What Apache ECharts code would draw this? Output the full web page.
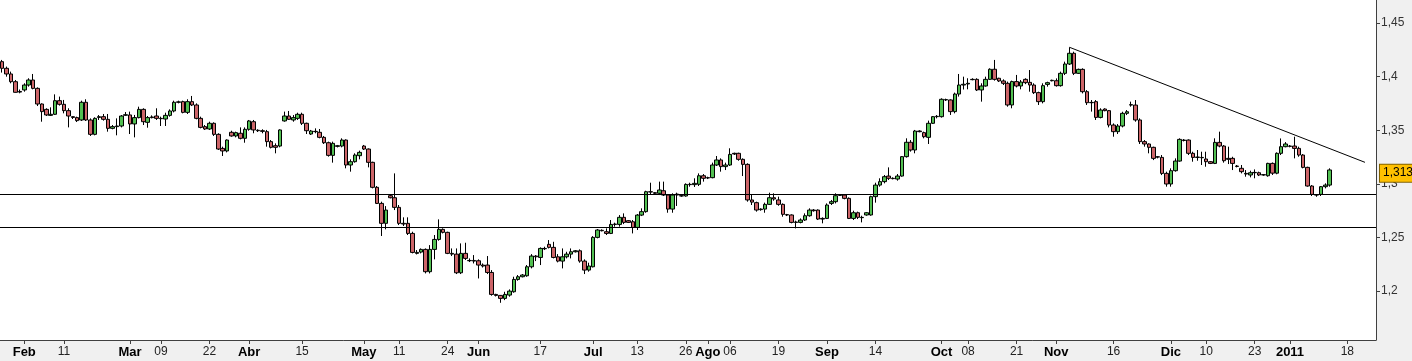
<!DOCTYPE html>
<html><head><meta charset="utf-8">
<script src="https://cdn.jsdelivr.net/npm/echarts@6/dist/echarts.min.js"></script>
<style>html,body{margin:0;padding:0;background:#f0f0f0}#c{width:1412px;height:361px}</style>
</head><body><div id="c"></div>
<script>
// ---- categories: daily bars (Mon-Fri + Sunday sessions), then future weekdays on the axis
const firstDate = '2010-01-26';
const lastDataDate = '2011-01-12';
const futureWeekdays = 10;

// ---- OHLC values (one row = one week of bars)
const opens = [
1.4140,1.4078,1.4025,1.3953,1.3862,1.3876,
1.3922,1.3969,1.3891,1.3745,1.3695,1.3639,
1.3649,1.3776,1.3742,1.3683,1.3627,1.3618,
1.3596,1.3761,1.3596,1.3462,1.3620,1.3627,
1.3602,1.3518,1.3534,1.3540,1.3640,1.3643,
1.3559,1.3618,1.3695,1.3574,1.3618,1.3633,
1.3611,1.3605,1.3639,1.3680,1.3761,1.3767,
1.3667,1.3767,1.3736,1.3611,1.3534,1.3512,
1.3565,1.3462,1.3331,1.3307,1.3481,1.3447,
1.3472,1.3425,1.3509,1.3580,1.3500,1.3496,
1.3487,1.3394,1.3356,1.3353,1.3587,1.3633,
1.3596,1.3611,1.3649,1.3565,1.3465,1.3487,
1.3481,1.3434,1.3384,1.3266,1.3350,1.3353,
1.3409,1.3176,1.3207,1.3263,1.3353,1.3325,
1.3201,1.2968,1.2818,1.2632,1.2890,1.2871,
1.2781,1.2632,1.2632,1.2538,1.2352,1.2364,
1.2389,1.2181,1.2389,1.2482,1.2576,1.2548,
1.2352,1.2345,1.2171,1.2352,1.2283,1.2286,
1.2283,1.2243,1.2243,1.2174,1.1969,1.1960,
1.1932,1.1963,1.1994,1.2109,1.2134,1.2143,
1.2227,1.2327,1.2314,1.2398,1.2436,1.2408,
1.2320,1.2280,1.2320,1.2345,1.2367,1.2376,
1.2280,1.2196,1.2227,1.2501,1.2567,1.2554,
1.2538,1.2622,1.2622,1.2688,1.2657,1.2647,
1.2594,1.2709,1.2741,1.2927,1.2918,1.2912,
1.2936,1.2896,1.2765,1.2896,1.2890,1.2887,
1.2996,1.2993,1.2996,1.3076,1.3058,1.3058,
1.3176,1.3223,1.3161,1.3176,1.3285,1.3285,
1.3229,1.3182,1.2850,1.2825,1.2760,1.2765,
1.2809,1.2871,1.2850,1.2809,1.2713,1.2710,
1.2641,1.2641,1.2663,1.2703,1.2756,1.2756,
1.2672,1.2678,1.2818,1.2834,1.2893,1.2896,
1.2865,1.2678,1.2731,1.2685,1.2710,1.2710,
1.2881,1.2989,1.3021,1.3073,1.3052,1.3045,
1.3073,1.3254,1.3388,1.3316,1.3493,1.3478,
1.3434,1.3565,1.3627,1.3627,1.3783,1.3783,
1.3674,1.3838,1.3922,1.3932,1.3975,1.3975,
1.3876,1.3913,1.3975,1.4069,1.3985,1.3960,
1.3938,1.3736,1.3954,1.3913,1.3975,1.3947,
1.3922,1.3851,1.3767,1.3928,1.3962,1.3962,
1.3916,1.4031,1.4118,1.4218,1.4031,1.4068,
1.3860,1.3757,1.3767,1.3620,1.3698,1.3683,
1.3549,1.3487,1.3540,1.3658,1.3735,1.3735,
1.3596,1.3394,1.3372,1.3341,1.3253,1.3247,
1.3098,1.2999,1.3123,1.3213,1.3409,1.3409,
1.3285,1.3247,1.3244,1.3232,1.3207,1.3191,
1.3387,1.3353,1.3238,1.3238,1.3166,1.3145,
1.3098,1.3083,1.3104,1.3104,1.3083,1.3076,
1.3191,1.3100,1.3285,1.3347,1.3353,1.3353,
1.3331,1.3269,1.3154,1.2980,1.2896,1.2902,
1.2974,1.2989];
const closes = [
1.4078,1.4025,1.3953,1.3854,1.3856,1.3922,
1.3969,1.3891,1.3745,1.3674,1.3643,1.3649,
1.3776,1.3742,1.3683,1.3633,1.3620,1.3590,
1.3761,1.3596,1.3462,1.3611,1.3627,1.3602,
1.3518,1.3534,1.3540,1.3633,1.3645,1.3559,
1.3618,1.3695,1.3580,1.3618,1.3624,1.3611,
1.3608,1.3639,1.3680,1.3761,1.3765,1.3667,
1.3767,1.3736,1.3611,1.3527,1.3512,1.3565,
1.3462,1.3325,1.3307,1.3409,1.3447,1.3478,
1.3425,1.3509,1.3587,1.3503,1.3496,1.3490,
1.3394,1.3341,1.3341,1.3503,1.3633,1.3602,
1.3618,1.3649,1.3565,1.3496,1.3493,1.3490,
1.3434,1.3384,1.3266,1.3378,1.3356,1.3409,
1.3176,1.3207,1.3269,1.3294,1.3325,1.3201,
1.2968,1.2818,1.2632,1.2756,1.2871,1.2781,
1.2632,1.2626,1.2538,1.2361,1.2361,1.2389,
1.2181,1.2389,1.2482,1.2576,1.2548,1.2352,
1.2345,1.2171,1.2352,1.2305,1.2286,1.2280,
1.2243,1.2234,1.2174,1.1969,1.1960,1.1932,
1.1969,1.2000,1.2109,1.2134,1.2150,1.2227,
1.2327,1.2320,1.2398,1.2395,1.2408,1.2314,
1.2280,1.2320,1.2345,1.2367,1.2376,1.2280,
1.2196,1.2234,1.2501,1.2570,1.2563,1.2538,
1.2622,1.2625,1.2688,1.2641,1.2641,1.2594,
1.2709,1.2741,1.2927,1.2924,1.2912,1.2943,
1.2896,1.2765,1.2896,1.2905,1.2887,1.2995,
1.2993,1.3005,1.3076,1.3052,1.3055,1.3176,
1.3223,1.3161,1.3176,1.3275,1.3279,1.3229,
1.3182,1.2850,1.2830,1.2756,1.2765,1.2809,
1.2871,1.2859,1.2809,1.2716,1.2710,1.2641,
1.2644,1.2663,1.2703,1.2756,1.2750,1.2672,
1.2678,1.2803,1.2834,1.2890,1.2896,1.2865,
1.2678,1.2731,1.2688,1.2688,1.2731,1.2881,
1.2989,1.3021,1.3067,1.3052,1.3049,1.3073,
1.3254,1.3388,1.3316,1.3493,1.3487,1.3440,
1.3565,1.3627,1.3630,1.3789,1.3786,1.3674,
1.3838,1.3922,1.3929,1.3938,1.3972,1.3876,
1.3913,1.3975,1.4069,1.3975,1.3960,1.3938,
1.3736,1.3954,1.3913,1.3950,1.3944,1.3922,
1.3851,1.3767,1.3916,1.3944,1.3966,1.3916,
1.4031,1.4118,1.4218,1.4031,1.4068,1.3860,
1.3757,1.3760,1.3620,1.3689,1.3683,1.3549,
1.3487,1.3540,1.3658,1.3673,1.3739,1.3596,
1.3394,1.3372,1.3341,1.3238,1.3250,1.3098,
1.2999,1.3123,1.3213,1.3415,1.3405,1.3285,
1.3247,1.3250,1.3247,1.3207,1.3191,1.3387,
1.3353,1.3216,1.3229,1.3191,1.3163,1.3114,
1.3092,1.3104,1.3107,1.3083,1.3086,1.3191,
1.3100,1.3285,1.3347,1.3372,1.3350,1.3331,
1.3269,1.3154,1.2980,1.2902,1.2899,1.2974,
1.2989,1.3130];
const lows = [
1.4038,1.4000,1.3938,1.3851,1.3845,1.3860,
1.3907,1.3882,1.3726,1.3580,1.3633,1.3633,
1.3643,1.3730,1.3658,1.3527,1.3605,1.3577,
1.3587,1.3587,1.3447,1.3453,1.3596,1.3590,
1.3487,1.3509,1.3453,1.3527,1.3633,1.3465,
1.3434,1.3611,1.3549,1.3524,1.3611,1.3596,
1.3540,1.3540,1.3627,1.3667,1.3751,1.3658,
1.3652,1.3726,1.3602,1.3518,1.3503,1.3503,
1.3447,1.3316,1.3260,1.3294,1.3440,1.3434,
1.3415,1.3384,1.3496,1.3472,1.3484,1.3472,
1.3347,1.3331,1.3285,1.3341,1.3580,1.3596,
1.3580,1.3596,1.3549,1.3465,1.3456,1.3472,
1.3425,1.3372,1.3254,1.3198,1.3340,1.3341,
1.3145,1.3114,1.3198,1.3229,1.3316,1.3154,
1.2958,1.2812,1.2514,1.2576,1.2865,1.2756,
1.2616,1.2607,1.2523,1.2352,1.2342,1.2352,
1.2165,1.2165,1.2296,1.2470,1.2538,1.2345,
1.2327,1.2159,1.2159,1.2290,1.2271,1.2258,
1.2118,1.2220,1.2159,1.1957,1.1950,1.1891,
1.1916,1.1948,1.1985,1.2097,1.2128,1.2134,
1.2212,1.2280,1.2243,1.2383,1.2398,1.2305,
1.2268,1.2212,1.2305,1.2305,1.2360,1.2265,
1.2159,1.2181,1.2221,1.2492,1.2557,1.2523,
1.2532,1.2601,1.2601,1.2625,1.2635,1.2538,
1.2570,1.2700,1.2731,1.2905,1.2905,1.2896,
1.2887,1.2731,1.2731,1.2794,1.2880,1.2881,
1.2974,1.2971,1.2980,1.3021,1.3045,1.3052,
1.3167,1.3114,1.3129,1.3167,1.3270,1.3216,
1.3073,1.2834,1.2803,1.2741,1.2750,1.2731,
1.2803,1.2843,1.2796,1.2694,1.2700,1.2632,
1.2585,1.2632,1.2654,1.2694,1.2741,1.2663,
1.2632,1.2672,1.2803,1.2818,1.2887,1.2856,
1.2672,1.2663,1.2672,1.2641,1.2703,1.2703,
1.2825,1.2974,1.3005,1.3036,1.3042,1.3030,
1.3067,1.3245,1.3301,1.3285,1.3481,1.3425,
1.3372,1.3559,1.3611,1.3618,1.3773,1.3643,
1.3658,1.3814,1.3880,1.3882,1.3966,1.3866,
1.3767,1.3907,1.3969,1.3963,1.3950,1.3922,
1.3720,1.3705,1.3900,1.3882,1.3930,1.3860,
1.3838,1.3736,1.3751,1.3907,1.3956,1.3907,
1.3907,1.4015,1.4109,1.4015,1.4025,1.3844,
1.3736,1.3674,1.3596,1.3611,1.3677,1.3527,
1.3440,1.3465,1.3527,1.3642,1.3720,1.3580,
1.3372,1.3347,1.3285,1.3222,1.3238,1.3082,
1.2974,1.2974,1.3114,1.3207,1.3396,1.3269,
1.3207,1.3216,1.3176,1.3160,1.3185,1.3185,
1.3341,1.3198,1.3185,1.3129,1.3154,1.3098,
1.3067,1.3061,1.3052,1.3073,1.3076,1.3067,
1.3083,1.3090,1.3269,1.3341,1.3341,1.3238,
1.3253,1.3145,1.2974,1.2887,1.2880,1.2887,
1.2958,1.2974];
const highs = [
1.4156,1.4094,1.4047,1.3969,1.3880,1.3938,
1.3985,1.4025,1.3900,1.3751,1.3705,1.3714,
1.3835,1.3814,1.3783,1.3705,1.3630,1.3627,
1.3776,1.3789,1.3611,1.3621,1.3642,1.3652,
1.3652,1.3549,1.3611,1.3642,1.3670,1.3674,
1.3643,1.3720,1.3705,1.3633,1.3639,1.3705,
1.3627,1.3664,1.3695,1.3776,1.3776,1.3776,
1.3789,1.3820,1.3751,1.3627,1.3549,1.3580,
1.3574,1.3472,1.3347,1.3415,1.3496,1.3487,
1.3527,1.3527,1.3596,1.3596,1.3509,1.3509,
1.3503,1.3409,1.3378,1.3509,1.3674,1.3680,
1.3642,1.3664,1.3664,1.3571,1.3503,1.3518,
1.3512,1.3447,1.3394,1.3394,1.3363,1.3425,
1.3415,1.3229,1.3285,1.3310,1.3363,1.3331,
1.3207,1.2980,1.2834,1.2793,1.2902,1.3098,
1.2803,1.2688,1.2688,1.2554,1.2383,1.2398,
1.2398,1.2429,1.2523,1.2669,1.2585,1.2554,
1.2398,1.2398,1.2445,1.2451,1.2305,1.2336,
1.2296,1.2258,1.2327,1.2196,1.1975,1.1963,
1.1994,1.2016,1.2134,1.2150,1.2159,1.2243,
1.2345,1.2336,1.2408,1.2414,1.2476,1.2460,
1.2345,1.2398,1.2367,1.2398,1.2383,1.2389,
1.2296,1.2265,1.2513,1.2579,1.2576,1.2585,
1.2663,1.2638,1.2709,1.2725,1.2663,1.2663,
1.2719,1.2772,1.2936,1.3011,1.2924,1.3021,
1.3021,1.2905,1.2912,1.2918,1.2896,1.3005,
1.3011,1.3052,1.3098,1.3092,1.3067,1.3198,
1.3260,1.3238,1.3198,1.3332,1.3291,1.3291,
1.3238,1.3192,1.2905,1.2834,1.2772,1.2825,
1.2918,1.2912,1.2881,1.2818,1.2720,1.2716,
1.2657,1.2678,1.2725,1.2772,1.2765,1.2762,
1.2688,1.2818,1.2850,1.2912,1.2902,1.2905,
1.2874,1.2750,1.2741,1.2703,1.2737,1.2890,
1.3011,1.3052,1.3083,1.3154,1.3061,1.3092,
1.3260,1.3425,1.3409,1.3503,1.3500,1.3487,
1.3590,1.3633,1.3642,1.3798,1.3795,1.3789,
1.3851,1.4025,1.4000,1.3985,1.3985,1.3985,
1.3938,1.4000,1.4078,1.4156,1.3990,1.3975,
1.3954,1.3963,1.4016,1.3969,1.3985,1.4062,
1.3938,1.3860,1.3938,1.3953,1.3972,1.3984,
1.4047,1.4140,1.4274,1.4233,1.4075,1.4078,
1.3875,1.3782,1.3782,1.3705,1.3705,1.3689,
1.3564,1.3558,1.3673,1.3689,1.3767,1.3782,
1.3611,1.3409,1.3378,1.3347,1.3260,1.3269,
1.3114,1.3145,1.3238,1.3425,1.3418,1.3415,
1.3300,1.3316,1.3300,1.3300,1.3213,1.3425,
1.3487,1.3362,1.3347,1.3253,1.3176,1.3176,
1.3129,1.3123,1.3135,1.3114,1.3092,1.3197,
1.3200,1.3294,1.3424,1.3390,1.3362,1.3440,
1.3347,1.3278,1.3160,1.2989,1.2905,1.2980,
1.3005,1.3145];

// ---- annotations
const supportLevels = [1.2856, 1.2576];
const trendLine = [['2010-11-04', 1.4274], ['2011-01-24', 1.3201]];
const lastPriceText = '1,313';

// ---- axis ticks
const yTicks = [1.2, 1.25, 1.3, 1.35, 1.4, 1.45];
const yMin = 1.1544, yMax = 1.4715;
const xTickDates = ['2010-02-01','2010-02-11','2010-03-01','2010-03-09','2010-03-22','2010-04-01','2010-04-15',
 '2010-05-02','2010-05-11','2010-05-24','2010-06-01','2010-06-17','2010-07-01','2010-07-13','2010-07-26',
 '2010-08-01','2010-08-06','2010-08-19','2010-09-01','2010-09-14','2010-10-01','2010-10-08','2010-10-21',
 '2010-11-01','2010-11-16','2010-12-01','2010-12-10','2010-12-23','2011-01-02','2011-01-18'];
const xTickTexts = ['Feb','11','Mar','09','22','Abr','15','May','11','24','Jun','17','Jul','13','26',
 'Ago','06','19','Sep','14','Oct','08','21','Nov','16','Dic','10','23','2011','18'];
const xTickBold = ['Feb','Mar','Abr','May','Jun','Jul','Ago','Sep','Oct','Nov','Dic','2011'];

function iso(d){ return d.toISOString().slice(0,10); }
function buildDates(){
  const out = [];
  const d = new Date(firstDate + 'T00:00:00Z');
  while (iso(d) <= lastDataDate) { if (d.getUTCDay() !== 6) out.push(iso(d)); d.setUTCDate(d.getUTCDate()+1); }
  let n = 0;
  while (n < futureWeekdays) { const w = d.getUTCDay(); if (w !== 0 && w !== 6) { out.push(iso(d)); n++; } d.setUTCDate(d.getUTCDate()+1); }
  return out;
}
const dates = buildDates();
const ohlc = opens.map((o,i)=>[o, closes[i], lows[i], highs[i]]);
const lastClose = closes[closes.length-1];

const FONT = "'Liberation Sans', Arial, sans-serif";
const chart = echarts.init(document.getElementById('c'), null, {renderer:'canvas'});
chart.setOption({
  animation: false,
  backgroundColor: '#f0f0f0',
  textStyle: {fontFamily: FONT},
  grid: {left: 0, right: 36, top: 0, bottom: 21, show: true, backgroundColor: '#ffffff', borderWidth: 0},
  xAxis: {
    type: 'category', data: dates, boundaryGap: true,
    axisLine: {lineStyle: {color: '#404040', width: 1}},
    axisTick: {show: true, length: 4, alignWithLabel: true, lineStyle: {color: '#404040'},
      interval: (i, v) => xTickDates.includes(v)},
    axisLabel: {
      interval: (i, v) => xTickDates.includes(v), margin: 6,
      formatter: v => { const t = xTickTexts[xTickDates.indexOf(v)]; return xTickBold.includes(t) ? '{b|'+t+'}' : '{n|'+t+'}'; },
      rich: {b: {fontFamily: FONT, fontWeight: 'bold', fontSize: 13, color: '#000'},
             n: {fontFamily: FONT, fontSize: 12, color: '#222'}}
    },
    splitLine: {show: false}
  },
  yAxis: {
    type: 'value', position: 'right', min: yMin, max: yMax, scale: true,
    axisLine: {show: true, lineStyle: {color: '#404040', width: 1}},
    axisTick: {show: true, length: 4, customValues: yTicks, lineStyle: {color: '#404040'}},
    axisLabel: {customValues: yTicks, margin: 5, fontSize: 12, color: '#333', fontFamily: FONT,
      formatter: v => String(+v.toFixed(4)).replace('.', ',')},
    splitLine: {show: false}
  },
  series: [{
    type: 'candlestick', data: ohlc, barWidth: 4,
    itemStyle: {color: '#52c052', color0: '#cc6468', borderColor: '#000', borderColor0: '#000', borderWidth: 1},
    markLine: {
      silent: true, symbol: 'none', animation: false,
      lineStyle: {color: '#000', width: 1, type: 'solid'},
      label: {show: false},
      data: [
        {yAxis: supportLevels[0]},
        {yAxis: supportLevels[1]},
        [{coord: trendLine[0]}, {coord: trendLine[1]}]
      ]
    }
  }, {
    type: 'line', data: [], silent: true,
    markLine: {
      silent: true, symbol: 'none', animation: false,
      lineStyle: {color: 'rgba(0,0,0,0)', width: 1},
      data: [
        {yAxis: lastClose,
         label: {show: true, position: 'end', distance: 4, formatter: lastPriceText,
           backgroundColor: '#ffc000', borderColor: '#806000', borderWidth: 1,
           padding: [3, 3, 2, 3], color: '#000', fontSize: 12, fontFamily: FONT}}
      ]
    }
  }]
});
</script></body></html>
